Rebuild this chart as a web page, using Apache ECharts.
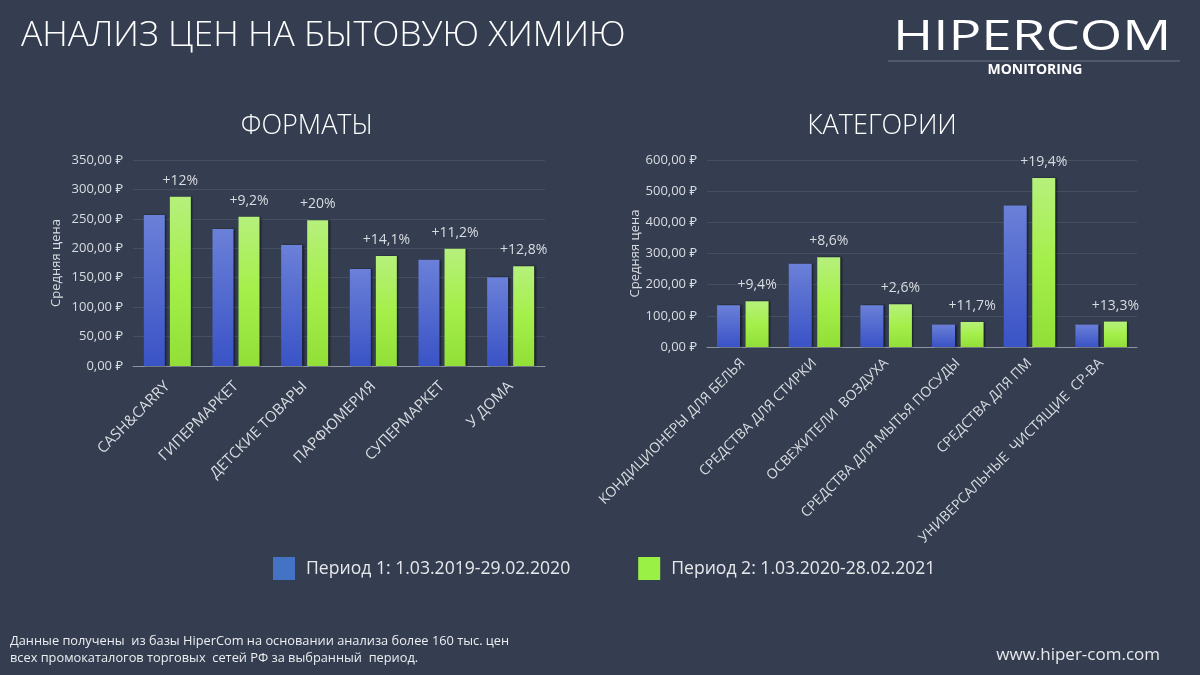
<!DOCTYPE html>
<html>
<head>
<meta charset="utf-8">
<script src="https://cdn.jsdelivr.net/npm/echarts@6/dist/echarts.min.js"></script>
<style>
	html, body { margin: 0; padding: 0; background: #343e50; }
	#chart { width: 1200px; height: 675px; }
</style>
</head>
<body>
<div id="chart"></div>
<script>
// данные: форматы
var formatNames = ['CASH&CARRY', 'ГИПЕРМАРКЕТ', 'ДЕТСКИЕ ТОВАРЫ', 'ПАРФЮМЕРИЯ', 'СУПЕРМАРКЕТ', 'У ДОМА'];
var formatP1 = [256.6, 232.8, 205.6, 164.8, 180.6, 150.7];
var formatP2 = [287.4, 253.7, 247.8, 186.9, 199.3, 169.4];
var formatPct = ['+12%', '+9,2%', '+20%', '+14,1%', '+11,2%', '+12,8%'];

// данные: категории
var catNames = ['КОНДИЦИОНЕРЫ ДЛЯ БЕЛЬЯ', 'СРЕДСТВА ДЛЯ СТИРКИ', 'ОСВЕЖИТЕЛИ  ВОЗДУХА', 'СРЕДСТВА ДЛЯ МЫТЬЯ ПОСУДЫ', 'СРЕДСТВА ДЛЯ ПМ', 'УНИВЕРСАЛЬНЫЕ  ЧИСТЯЩИЕ  СР-ВА'];
var catP1 = [134, 267, 134, 72, 454, 72];
var catP2 = [146.6, 288, 137.5, 80.4, 542, 81.6];
var catPct = ['+9,4%', '+8,6%', '+2,6%', '+11,7%', '+19,4%', '+13,3%'];

var period1 = 'Период 1: 1.03.2019-29.02.2020';
var period2 = 'Период 2: 1.03.2020-28.02.2021';

var FONT = '"Open Sans", "Noto Sans", sans-serif';
var textColor = '#d9dce1';

function rub(v) {
	return v.toFixed(2).replace('.', ',') + ' ₽';
}

var blueFill = new echarts.graphic.LinearGradient(0, 0, 0, 1, [
	{offset: 0, color: '#6b80d8'},
	{offset: 1, color: '#3a53c6'}
]);
var greenFill = new echarts.graphic.LinearGradient(0, 0, 0, 1, [
	{offset: 0, color: '#b6f07c'},
	{offset: 0.5, color: '#a5ef4a'},
	{offset: 1, color: '#92df38'}
]);
var barShadow = {shadowColor: 'rgba(0,0,0,0.55)', shadowBlur: 2, shadowOffsetX: 1.5, shadowOffsetY: 0};

function yAxisOf(gridIndex, max, interval, nameGap) {
	return {
		gridIndex: gridIndex,
		type: 'value',
		min: 0,
		max: max,
		interval: interval,
		name: 'Средняя цена',
		nameLocation: 'middle',
		nameGap: nameGap,
		nameTextStyle: {color: textColor, fontSize: 13, fontFamily: FONT},
		axisLine: {show: false},
		axisTick: {show: false},
		axisLabel: {color: textColor, fontSize: 13, fontFamily: FONT, margin: 10, formatter: rub},
		splitLine: {lineStyle: {color: 'rgba(255,255,255,0.09)', width: 1}}
	};
}

function xAxisOf(gridIndex, names, fontSize, margin) {
	return {
		gridIndex: gridIndex,
		type: 'category',
		data: names,
		axisLine: {lineStyle: {color: '#8d94a1', width: 1}},
		axisTick: {show: false},
		axisLabel: {color: textColor, fontSize: fontSize, fontFamily: FONT, rotate: 45, margin: margin, interval: 0}
	};
}

function barsOf(name, axisIndex, values, fill, width, pct) {
	var s = {
		name: name,
		type: 'bar',
		xAxisIndex: axisIndex,
		yAxisIndex: axisIndex,
		data: values,
		barWidth: width,
		barGap: '24%',
		itemStyle: Object.assign({color: fill}, barShadow)
	};
	if (pct) {
		s.label = {
			show: true,
			position: 'top',
			distance: 9,
			color: textColor,
			fontSize: 14,
			fontFamily: FONT,
			formatter: function(p) { return pct[p.dataIndex]; }
		};
	}
	return s;
}

var myChart = echarts.init(document.getElementById('chart'));
var option = {
	backgroundColor: '#343e50',
	animation: false,
	textStyle: {fontFamily: FONT},
	grid: [
		{left: 133, top: 160, width: 412, height: 206},
		{left: 707, top: 160, width: 430, height: 187}
	],
	xAxis: [xAxisOf(0, formatNames, 15, 18), xAxisOf(1, catNames, 14, 14)],
	yAxis: [yAxisOf(0, 350, 50, 70), yAxisOf(1, 600, 100, 58)],
	legend: {
		left: 268,
		top: 552,
		itemWidth: 22,
		itemHeight: 23,
		itemGap: 68,
		icon: 'rect',
		textStyle: {color: '#e6e8eb', fontSize: 17.6, fontFamily: FONT, padding: [0, 0, 0, 6]},
		data: [
			{name: period1, itemStyle: {color: '#4472c4'}},
			{name: period2, itemStyle: {color: '#9bf046'}}
		]
	},
	series: [
		barsOf(period1, 0, formatP1, blueFill, 21, null),
		barsOf(period2, 0, formatP2, greenFill, 21, formatPct),
		barsOf(period1, 1, catP1, blueFill, 23, null),
		barsOf(period2, 1, catP2, greenFill, 23, catPct)
	],
	graphic: [
		{type: 'text', left: 21, top: 18, style: {text: 'АНАЛИЗ ЦЕН НА БЫТОВУЮ ХИМИЮ', fill: '#ffffff', font: '300 35.5px ' + FONT}},
		{type: 'text', x: 307, y: 126, style: {text: 'ФОРМАТЫ', fill: '#ffffff', font: '300 27px ' + FONT, align: 'center', verticalAlign: 'middle'}},
		{type: 'text', x: 882, y: 126, style: {text: 'КАТЕГОРИИ', fill: '#ffffff', font: '300 27px ' + FONT, align: 'center', verticalAlign: 'middle'}},
		// логотип
		{type: 'text', x: 893, y: 38, scaleX: 1.3, style: {text: 'HIPERCOM', fill: '#ffffff', font: '400 42px ' + FONT, verticalAlign: 'middle'}},
		{type: 'line', shape: {x1: 888, y1: 61, x2: 1180, y2: 61}, style: {stroke: 'rgba(255,255,255,0.3)', lineWidth: 1}},
		{type: 'text', x: 1035, y: 70, style: {text: 'MONITORING', fill: '#ffffff', font: 'bold 14px ' + FONT, align: 'center', verticalAlign: 'middle'}},
		// подвал
		{type: 'text', x: 10, y: 641, style: {text: 'Данные получены  из базы HiperCom на основании анализа более 160 тыс. цен', fill: '#eceef1', font: '12.8px ' + FONT, verticalAlign: 'middle'}},
		{type: 'text', x: 10, y: 658, style: {text: 'всех промокаталогов торговых  сетей РФ за выбранный  период.', fill: '#eceef1', font: '12.8px ' + FONT, verticalAlign: 'middle'}},
		{type: 'text', x: 1160, y: 655, style: {text: 'www.hiper-com.com', fill: '#e6e8eb', font: '17px ' + FONT, align: 'right', verticalAlign: 'middle'}}
	]
};
myChart.setOption(option);
</script>
</body>
</html>
